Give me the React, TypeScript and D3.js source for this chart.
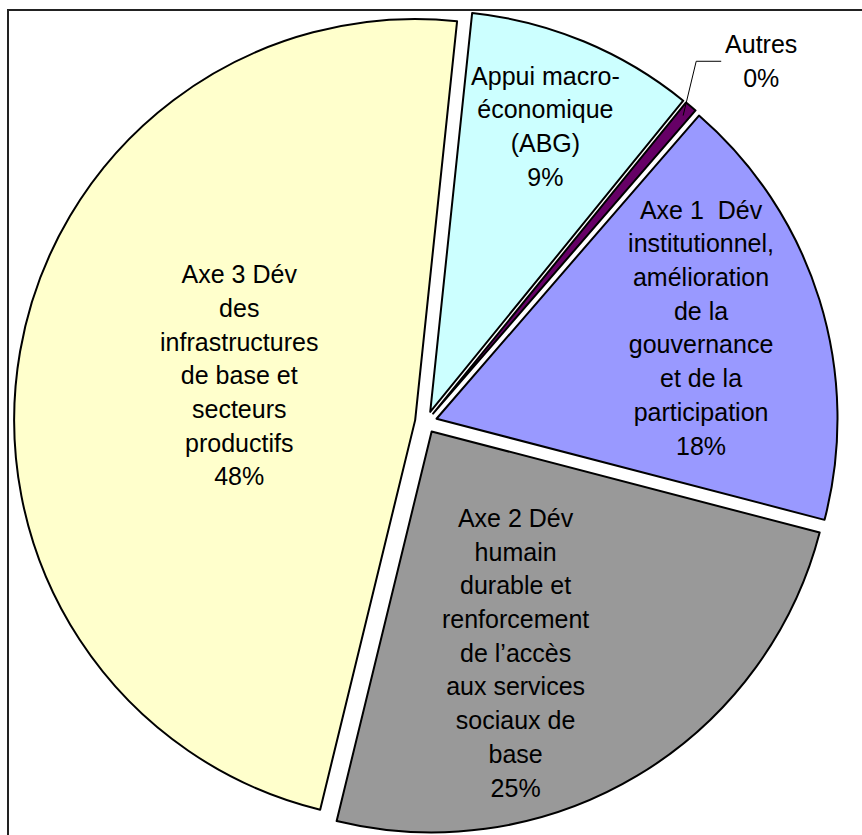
import React from "react";
import * as d3 from "d3";

const categories = [
  "Appui macro-\néconomique\n(ABG)",
  "Autres",
  "Axe 1  Dév\ninstitutionnel,\namélioration\nde la\ngouvernance\net de la\nparticipation",
  "Axe 2 Dév\nhumain\ndurable et\nrenforcement\nde l’accès\naux services\nsociaux de\nbase",
  "Axe 3 Dév\ndes\ninfrastructures\nde base et\nsecteurs\nproductifs",
];
const values = [9.2, 0.49, 17.7, 24.75, 47.86];
const colors = ["#CCFFFF", "#660066", "#9999FF", "#999999", "#FFFFCC"];
// label placement in polar form: angle (deg, clockwise from top), distance (fraction of radius)
const labelAngles = [22, 42.9, 71.1, 158.8, 284];
const labelDist = [0.795, 1.228, 0.725, 0.618, 0.48];

const W = 862;
const H = 835;
const cx = 426;
const cy = 422;
const R = 401;
const explode = 11;
const startDeg = 6;
const fontSize = 25;
const lineH = 33.7;

export default function App() {
  const pie = d3
    .pie<number>()
    .sort(null)
    .value((d) => d)
    .startAngle((startDeg * Math.PI) / 180)
    .endAngle((startDeg * Math.PI) / 180 + 2 * Math.PI);
  const arcs = pie(values);
  const arc = d3.arc<d3.PieArcDatum<number>>().innerRadius(0).outerRadius(R);
  const total = d3.sum(values);

  return (
    <div style={{ position: "absolute", left: 0, top: 0, width: W, height: H, background: "#fff" }}>
      <svg width={W} height={H} style={{ display: "block" }}>
        <rect x={8} y={10} width={W + 50} height={H + 50} fill="#fff" stroke="#222" strokeWidth={2} />
        <g transform={`translate(${cx},${cy})`}>
          {arcs.map((a, i) => {
            const mid = (a.startAngle + a.endAngle) / 2;
            const dx = explode * Math.sin(mid);
            const dy = -explode * Math.cos(mid);
            return (
              <path
                key={i}
                d={arc(a) || ""}
                transform={`translate(${dx},${dy})`}
                fill={colors[i]}
                stroke="#000"
                strokeWidth={2}
                strokeLinejoin="round"
              />
            );
          })}
          {arcs.map((a, i) => {
            const ang = (labelAngles[i] * Math.PI) / 180;
            const lx = labelDist[i] * R * Math.sin(ang);
            const ly = -labelDist[i] * R * Math.cos(ang);
            const lines = [...categories[i].split("\n"), `${Math.round((values[i] / total) * 100)}%`];
            const y0 = ly - ((lines.length - 1) * lineH) / 2;
            let leader = null;
            if (i === 1) {
              const mid = (a.startAngle + a.endAngle) / 2;
              const ex = (R + explode - 12) * Math.sin(mid);
              const ey = -(R + explode - 12) * Math.cos(mid);
              const ty = ly;
              const tx = lx - 40;
              leader = (
                <polyline
                  points={`${tx},${ty} ${tx - 25},${ty} ${ex},${ey}`}
                  fill="none"
                  stroke="#000"
                  strokeWidth={1}
                />
              );
            }
            return (
              <g key={"l" + i}>
                {leader}
                <text
                  textAnchor="middle"
                  fontFamily="'Liberation Sans', Arial, sans-serif"
                  fontSize={fontSize}
                  fill="#000"
                  style={{ whiteSpace: "pre" }}
                >
                  {lines.map((t, j) => (
                    <tspan key={j} x={lx} y={y0 + j * lineH} dy="0.35em">
                      {t}
                    </tspan>
                  ))}
                </text>
              </g>
            );
          })}
        </g>
      </svg>
    </div>
  );
}
